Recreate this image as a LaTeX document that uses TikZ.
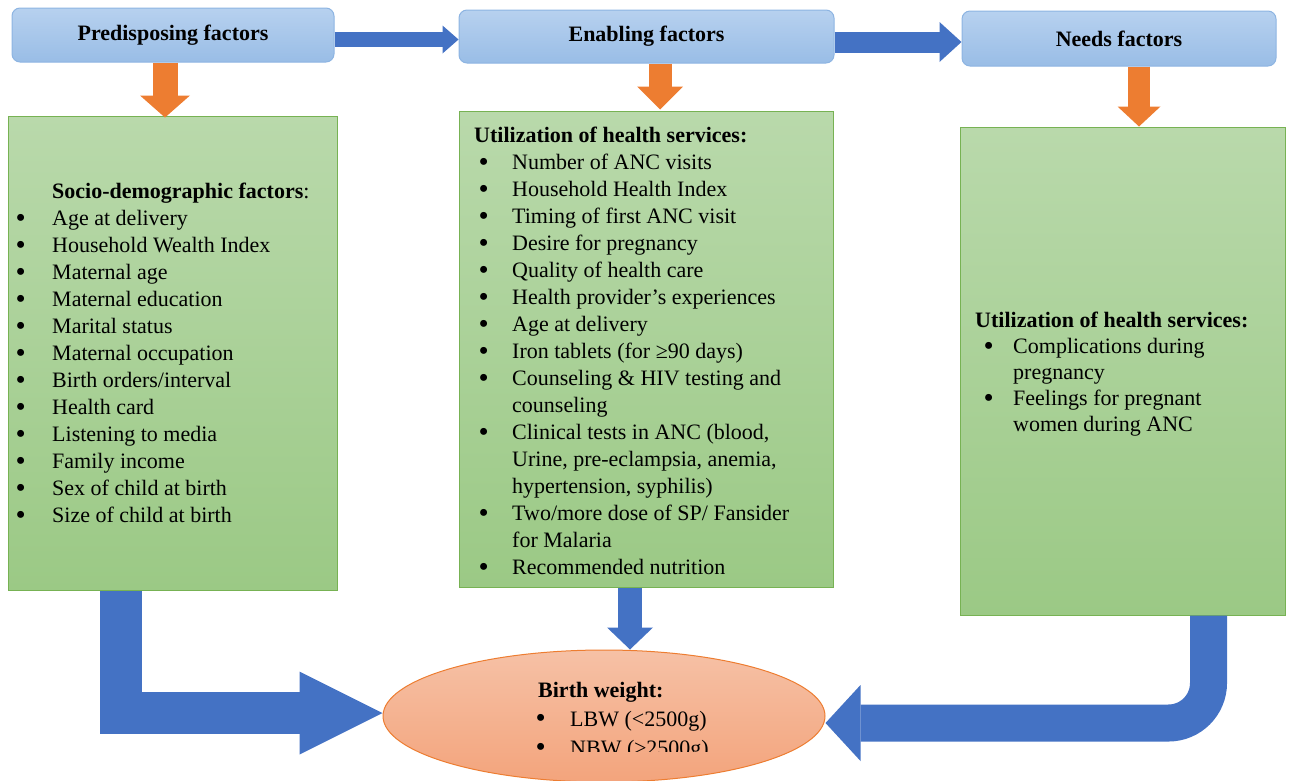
\documentclass[tikz,border=0pt]{standalone}
\usepackage{fontspec}
\setmainfont{Liberation Serif}
\usetikzlibrary{shapes.geometric,arrows.meta}
\definecolor{headtop}{HTML}{B7D1EF}
\definecolor{headbot}{HTML}{99BDE6}
\definecolor{headline}{HTML}{8DB4E2}
\definecolor{boxtop}{HTML}{B9D9AB}
\definecolor{boxbot}{HTML}{9BC985}
\definecolor{boxline}{HTML}{77B253}
\definecolor{bwtop}{HTML}{F6C1A6}
\definecolor{bwbot}{HTML}{F3A47C}
\definecolor{bwline}{HTML}{ED7D31}
\definecolor{arrblue}{HTML}{4472C4}
\definecolor{arrorange}{HTML}{ED7D31}
\newcommand{\bul}[1]{\makebox[#1][l]{\hspace{1.5pt}\raisebox{-1.5pt}{\fontsize{29}{29}\selectfont\textbullet}}}

\begin{document}
\begin{tikzpicture}[x=1pt,y=-1pt,
	every node/.style={font=\fontsize{22}{27}\selectfont},
	head/.style={draw=headline,line width=1pt,rounded corners=8pt,top color=headtop,bottom color=headbot,font=\fontsize{22}{27}\selectfont\bfseries},
	box/.style={draw=boxline,line width=1pt,top color=boxtop,bottom color=boxbot},
	list/.style={anchor=north west,inner sep=0pt,align=left},
	harrow/.style={draw=arrblue,line width=#1},
	varrow/.style={draw=arrorange,line width=#1}]
	\useasboundingbox (0,0) rectangle (1290,780);

	% factor headings
	\node[head,minimum width=322pt,minimum height=54pt] (pre) at (173,35) {Predisposing factors};
	\node[head,minimum width=375pt,minimum height=53pt] (ena) at (646.5,36.5) {Enabling factors};
	\node[head,minimum width=314pt,minimum height=55pt] (nds) at (1119,38.5) {Needs factors};

	% boxes
	\node[box,minimum width=329pt,minimum height=474pt] (sdf) at (172.5,353) {};
	\node[box,minimum width=374pt,minimum height=476pt] (uhs) at (646,349) {};
	\node[box,minimum width=325pt,minimum height=488pt] (uhn) at (1122.5,371) {};
	\node[ellipse,draw=bwline,line width=1pt,top color=bwtop,bottom color=bwbot,minimum width=442pt,minimum height=132pt,inner sep=0pt] (bw) at (604,716) {};

	% arrows between headings
	\draw[harrow=15pt,-{Triangle[length=16pt,width=28pt,line width=0pt]}] ([yshift=-4.5pt]pre.east) -- ([yshift=-3pt]ena.west);
	\draw[harrow=21pt,-{Triangle[length=22pt,width=40pt,line width=0pt]}] ([yshift=-5.5pt]ena.east) -- ([yshift=-3.5pt]nds.west);

	% headings to boxes
	\draw[varrow=25pt,-{Triangle[length=22pt,width=50pt,line width=0pt]}] ([xshift=-8pt]pre.south) -- ([xshift=-7.5pt,yshift=-2pt]sdf.north);
	\draw[varrow=23pt,-{Triangle[length=23pt,width=46pt,line width=0pt]}] ([xshift=13.5pt]ena.south) -- ([xshift=14pt,yshift=1pt]uhs.north);
	\draw[varrow=22pt,-{Triangle[length=20pt,width=43pt,line width=0pt]}] ([xshift=20pt]nds.south) -- ([xshift=16.5pt]uhn.north);

	% boxes to birth weight
	\draw[harrow=42pt,-{Triangle[length=83pt,width=83pt,line width=0pt]}] ([xshift=-52pt]sdf.south) |- ([yshift=3pt]bw.west);
	\draw[harrow=24pt,-{Triangle[length=22pt,width=46pt,line width=0pt]}] ([xshift=-16pt]uhs.south) -- ([xshift=26pt]bw.north);
	\draw[harrow=37pt,rounded corners=40pt,-{Triangle[length=35pt,width=76pt,line width=0pt]}] ([xshift=86pt]uhn.south) |- ([yshift=-7pt]bw.east);

	% lists
	\node[list] (sdft) at (14,183) {\hspace*{38pt}\textbf{Socio-demographic factors}:\\
		\bul{38pt}Age at delivery\\
		\bul{38pt}Household Wealth Index\\
		\bul{38pt}Maternal age\\
		\bul{38pt}Maternal education\\
		\bul{38pt}Marital status\\
		\bul{38pt}Maternal occupation\\
		\bul{38pt}Birth orders/interval\\
		\bul{38pt}Health card\\
		\bul{38pt}Listening to media\\
		\bul{38pt}Family income\\
		\bul{38pt}Sex of child at birth\\
		\bul{38pt}Size of child at birth};
	\node[list] (uhst) at (477,127) {\hspace*{-3pt}\textbf{Utilization of health services:}\\
		\bul{35pt}Number of ANC visits\\
		\bul{35pt}Household Health Index\\
		\bul{35pt}Timing of first ANC visit\\
		\bul{35pt}Desire for pregnancy\\
		\bul{35pt}Quality of health care\\
		\bul{35pt}Health provider’s experiences\\
		\bul{35pt}Age at delivery\\
		\bul{35pt}Iron tablets (for ≥90 days)\\
		\bul{35pt}Counseling \& HIV testing and\\
		\hspace*{35pt}counseling\\
		\bul{35pt}Clinical tests in ANC (blood,\\
		\hspace*{35pt}Urine, pre-eclampsia, anemia,\\
		\hspace*{35pt}hypertension, syphilis)\\
		\bul{35pt}Two/more dose of SP/ Fansider\\
		\hspace*{35pt}for Malaria\\
		\bul{35pt}Recommended nutrition};
	\node[list,font=\fontsize{22}{26}\selectfont] (uhnt) at (982,312) {\hspace*{-7pt}\textbf{Utilization of health services:}\\
		\bul{31pt}Complications during\\
		\hspace*{31pt}pregnancy\\
		\bul{31pt}Feelings for pregnant\\
		\hspace*{31pt}women during ANC};
	\begin{scope}
		\clip (380,640) rectangle (830,751);
		\node[list,font=\fontsize{22}{29}\selectfont] (bwt) at (534,682) {\hspace*{4pt}\textbf{Birth weight:}\\
			\bul{36pt}LBW (<2500g)\\
			\bul{36pt}NBW (≥2500g)};
	\end{scope}
\end{tikzpicture}
\end{document}
